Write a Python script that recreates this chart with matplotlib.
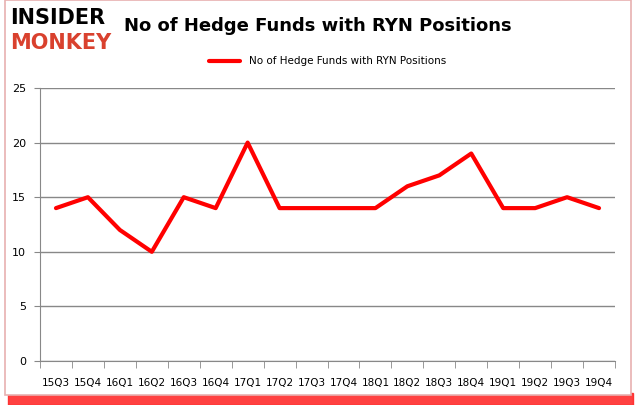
import matplotlib.pyplot as plt
from matplotlib.patches import Rectangle

quarters = ['15Q3', '15Q4', '16Q1', '16Q2', '16Q3', '16Q4', '17Q1', '17Q2', '17Q3',
            '17Q4', '18Q1', '18Q2', '18Q3', '18Q4', '19Q1', '19Q2', '19Q3', '19Q4']
funds = [14, 15, 12, 10, 15, 14, 20, 14, 14, 14, 14, 16, 17, 19, 14, 14, 15, 14]
yticks = [0, 5, 10, 15, 20, 25]

fig = plt.figure(figsize=(6.35, 4.05), dpi=100)

# red shadow at the bottom and frame
fig.patches.append(Rectangle((0.012, 0.0), 0.985, 0.03, transform=fig.transFigure,
                             color='#ff2020', alpha=0.85, zorder=0))
fig.patches.append(Rectangle((0.008, 0.025), 0.985, 0.975, transform=fig.transFigure,
                             facecolor='white', edgecolor='#e8b0b0', lw=1.2, zorder=1))

ax = fig.add_axes([40 / 635, 1 - 361 / 405, 575 / 635, 273 / 405])
ax.set_zorder(3)
ax.patch.set_alpha(0)
x = range(len(quarters))
ax.plot(x, funds, color='#ff0000', lw=3, solid_capstyle='round',
        label='No of Hedge Funds with RYN Positions')
ax.set_xlim(-0.5, len(quarters) - 0.5)
ax.set_ylim(0, 25)
ax.set_yticks(yticks)
ax.set_xticks(list(x))
ax.set_xticklabels(quarters, fontsize=7.5)
ax.tick_params(axis='y', labelsize=8, length=4, color='#888888', pad=6)
ax.tick_params(axis='x', length=0, pad=12)
# minor ticks between categories
ax.set_xticks([i - 0.5 for i in range(len(quarters) + 1)], minor=True)
ax.tick_params(axis='x', which='minor', length=5, color='#888888', direction='out')
ax.yaxis.grid(True, color='#888888', lw=1)
ax.set_axisbelow(True)
for s in ['top', 'right']:
    ax.spines[s].set_visible(False)
ax.spines['left'].set_color('#888888')
ax.spines['bottom'].set_color('#888888')

ax.legend(loc='upper center', bbox_to_anchor=(0.5, 1.15), frameon=False,
          fontsize=7.5, handlelength=3)

fig.text(0.195, 0.935, 'No of Hedge Funds with RYN Positions', fontsize=13,
         fontweight='bold', va='center', ha='left', zorder=4)
fig.text(0.016, 0.955, 'INSIDER', fontsize=15, fontweight='heavy', color='black',
         va='center', family='DejaVu Sans', zorder=4)
fig.text(0.016, 0.895, 'MONKEY', fontsize=15, fontweight='heavy', color='#d9412e',
         va='center', family='DejaVu Sans', zorder=4)

fig.savefig('out.png', dpi=100)
